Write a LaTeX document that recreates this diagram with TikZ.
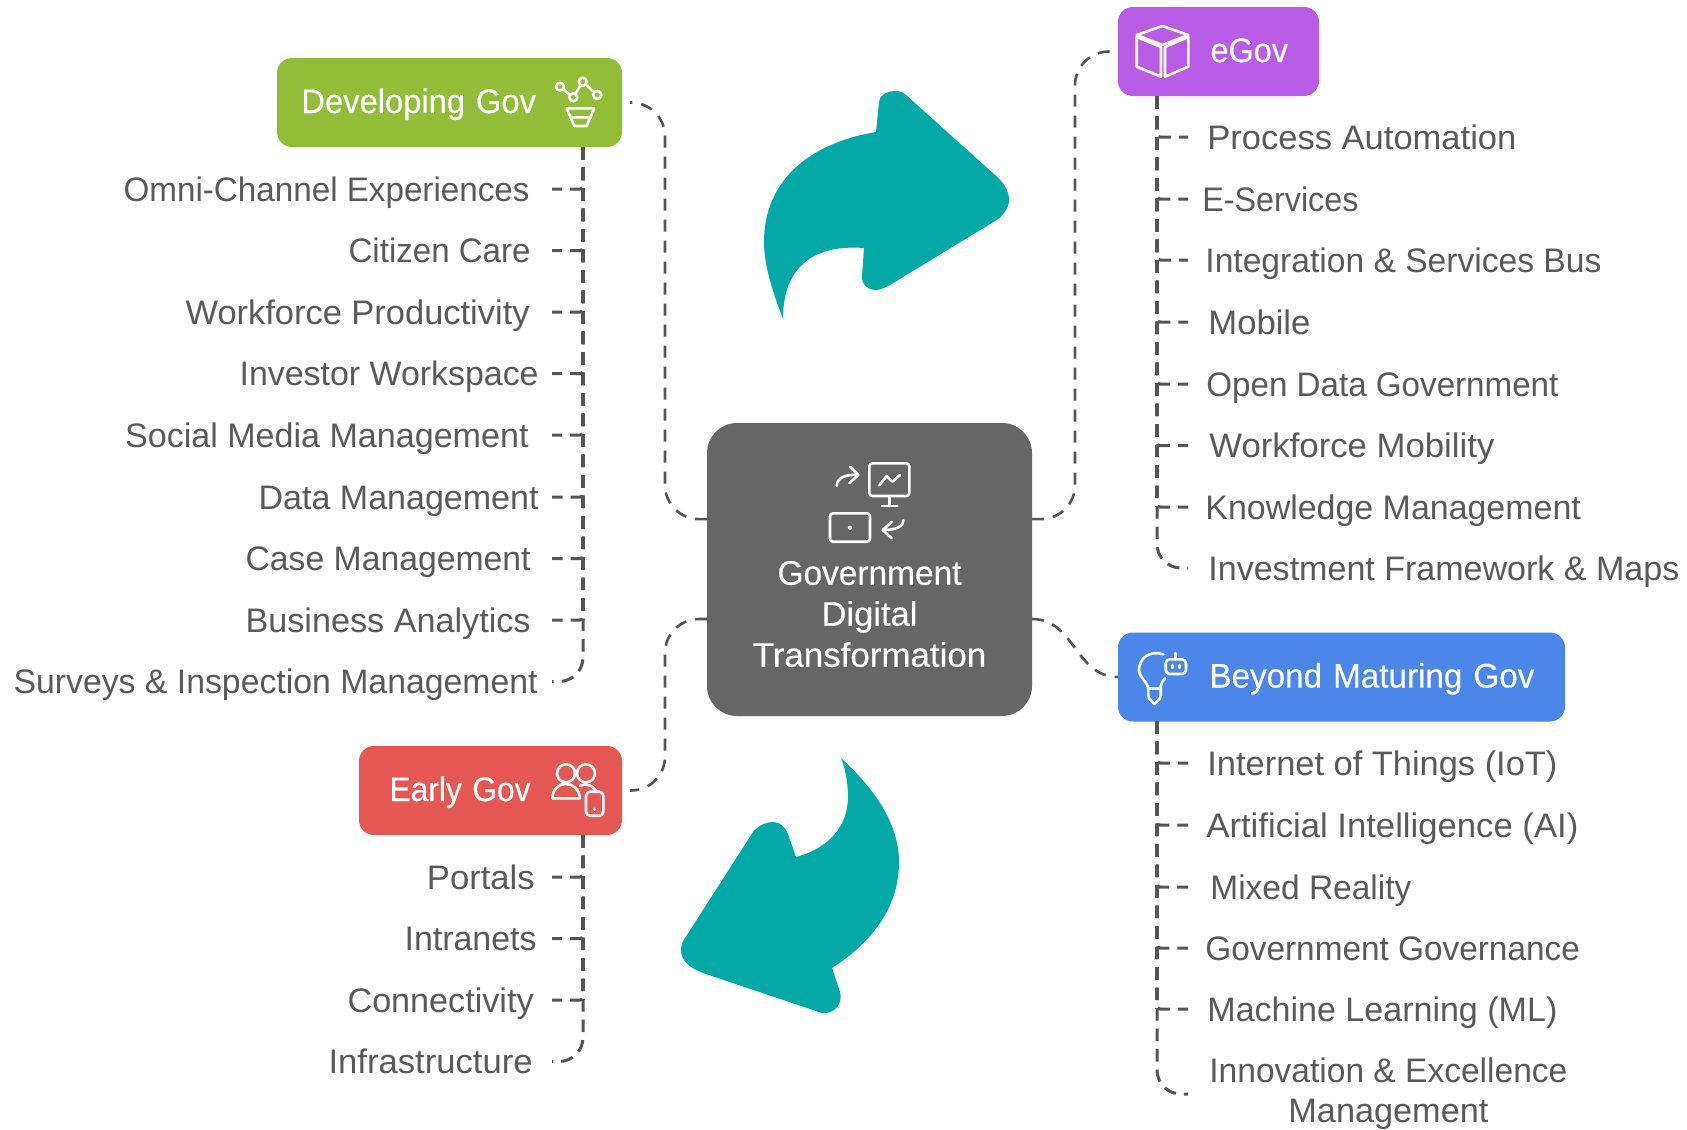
\documentclass[tikz,border=0pt]{standalone}
\usepackage{graphicx}
\usepackage{fontspec}
\setmainfont{Liberation Sans}
\newfontfamily\medfont[FakeBold=0.35]{Liberation Sans}
\usetikzlibrary{calc}
\definecolor{tealarrow}{RGB}{2,169,166}
\definecolor{cgreen}{RGB}{146,189,57}
\definecolor{cpurple}{RGB}{184,92,230}
\definecolor{cblue}{RGB}{75,134,232}
\definecolor{cred}{RGB}{229,87,83}
\definecolor{cgray}{RGB}{102,102,102}
\definecolor{ctext}{RGB}{90,90,90}
\definecolor{cline}{RGB}{85,85,85}
\newdimen\fitunit \fitunit=0.5pt
\newcommand{\fitw}[2]{\resizebox{#1\fitunit}{\height}{#2}}
\tikzset{
  x=0.5pt,y=-0.5pt,
  groupbox/.style={rectangle,rounded corners=7.5pt,inner sep=0pt,outer sep=0pt,text=white,
    minimum height=44.5pt,align=left,font=\fontsize{17}{20}\medfont,text height=14pt,text depth=3.5pt},
  hubbox/.style={rectangle,rounded corners=15pt,fill=cgray,inner sep=0pt,outer sep=0pt,
    minimum width=162.5pt,minimum height=146.5pt},
  hublabel/.style={text=white,align=center,inner sep=0pt,font=\fontsize{17}{20.5}\medfont},
  itemleft/.style={anchor=east,inner sep=0pt,text=ctext,font=\fontsize{17}{20}\selectfont,text height=15.5pt,text depth=3.5pt},
  itemright/.style={anchor=west,inner sep=0pt,text=ctext,font=\fontsize{17}{20}\selectfont,text height=15.5pt,text depth=3.5pt},
  conn/.style={draw=cline,line width=1.5pt,dash pattern=on 6.25pt off 4pt},
  trunk/.style={draw=cline,line width=2.3pt,dash pattern=on 6.25pt off 4pt},
  link/.style={draw=cline,line width=1.3pt,dash pattern=on 6pt off 4.5pt},
  icon/.style={draw=white,line width=1.3pt,line cap=round,line join=round},
  bigarrow/.style={fill=tealarrow,draw=none},
}
\begin{document}
\begin{tikzpicture}
\useasboundingbox (0,0) rectangle (1687,1130);
\fill[white] (0,0) rectangle (1687,1130);

% big arrows
\path[bigarrow] (783,319) .. controls (770,285) and (764,262) .. (764,242)
  .. controls (764,180) and (810,143) .. (876,132)
  -- (879,102) .. controls (880,94) and (888,91) .. (895,91) .. controls (899,91) and (903,92) .. (906,95)
  -- (995,175) .. controls (1003,182) and (1009,190) .. (1009,200) .. controls (1009,208) and (1003,216) .. (995,221)
  -- (890,285) .. controls (883,289) and (878,290) .. (875,290) .. controls (868,290) and (861,284) .. (862,276)
  -- (864,248) .. controls (810,244) and (783,270) .. (783,319) -- cycle;
\path[bigarrow] (841,758) .. controls (876,790) and (899,825) .. (899,862)
  .. controls (899,905) and (875,940) .. (832,968)
  -- (840,992) .. controls (843,1003) and (835,1013) .. (825,1013) .. controls (822,1013) and (820,1013) .. (816,1011)
  -- (703,973) .. controls (690,968) and (681,961) .. (681,950) .. controls (681,945) and (683,940) .. (687,935)
  -- (753,832) .. controls (759,825) and (766,822) .. (773,822) .. controls (780,822) and (785,827) .. (788,834)
  -- (796,857) .. controls (830,848) and (848,825) .. (848,797) .. controls (848,785) and (846,770) .. (841,758) -- cycle;

% boxes
\node[groupbox,fill=cgreen,minimum width=172.5pt,text width=172.5pt] (dev) at (449.5,102.5) {\hspace*{12.2pt}\fitw{234.6}{Developing Gov}};
\node[groupbox,fill=cpurple,minimum width=100.5pt,text width=100.5pt] (egov) at (1218.5,51.5) {\hspace*{46.25pt}\fitw{77.5}{eGov}};
\node[groupbox,fill=cblue,minimum width=223.5pt,text width=223.5pt] (beyond) at (1341.5,677) {\hspace*{45.7pt}\fitw{325}{Beyond Maturing Gov}};
\node[groupbox,fill=cred,minimum width=131.5pt,text width=131.5pt] (early) at (490.5,790.5) {\hspace*{15.25pt}\fitw{141}{Early Gov}};
\node[hubbox] (hub) at (869.5,569.5) {};
\node[hublabel] (hublabeltext) at (869.5,614) {\fitw{184}{Government}\\\fitw{96}{Digital}\\\fitw{233.5}{Transformation}};

% hub anchors
\coordinate (hubWa) at ($(hub.north west)!0.328!(hub.south west)$);
\coordinate (hubWb) at ($(hub.north west)!0.669!(hub.south west)$);
\coordinate (hubEa) at ($(hub.north east)!0.328!(hub.south east)$);
\coordinate (hubEb) at ($(hub.north east)!0.669!(hub.south east)$);
\coordinate (busLa) at (665,300);
\coordinate (busLb) at (665,700);
\coordinate (busR) at (1075,300);

% links between hub and boxes
\draw[link,rounded corners=17pt,shorten >=4pt] (hubWa) -| (busLa) |- (dev.east);
\draw[link,rounded corners=17pt,shorten >=4pt] (hubWb) -| (busLb) |- (early.east);
\draw[link,rounded corners=17pt] (hubEa) -| (busR) |- (egov.west);
\draw[link] (hubEb) .. controls (1075,619) and (1075,677) .. (beyond.west);

% trunk heads
\coordinate (devT) at (583,147);
\coordinate (earlyT) at (583,835);
\coordinate (egovT) at (1157,96);
\coordinate (beyondT) at (1157,721);

% thicker shared trunks
\draw[trunk] (devT) -- (583,620);
\draw[trunk] (earlyT) -- (583,1000);
\draw[trunk] (egovT) -- (1157,507);
\draw[trunk] (beyondT) -- (1157,1009);

% Developing Gov items
\foreach \n/\y/\r/\rad/\w/\t in {
 1/189/530/1.5/406/{Omni-Channel Experiences},
 2/250.5/531/1.5/182/{Citizen Care},
 3/312/530/1.5/344/{Workforce Productivity},
 4/373.5/539/1.5/299/{Investor Workspace},
 5/435/529/1.5/403.5/{Social Media Management},
 6/497/539/1.5/280/{Data Management},
 7/558.5/531/1.5/285/{Case Management},
 8/620/531/1.5/285/{Business Analytics},
 9/681.5/538/12/524/{Surveys \& Inspection Management}}{
  \node[itemleft] (d\n) at (\r,\y) {\fitw{\w}{\t}};
  \draw[conn,rounded corners=\rad pt,shorten >={(552-\r)*0.5pt}] (devT) |- (d\n.east);
}
% Early Gov items
\foreach \n/\y/\r/\rad/\w/\t in {
 1/877/535/1.5/107.6/{Portals},
 2/938.5/537/1.5/132/{Intranets},
 3/1000/534/1.5/186/{Connectivity},
 4/1061.5/533/12/204/{Infrastructure}}{
  \node[itemleft] (e\n) at (\r,\y) {\fitw{\w}{\t}};
  \draw[conn,rounded corners=\rad pt,shorten >={(552-\r)*0.5pt}] (earlyT) |- (e\n.east);
}
% eGov items
\foreach \n/\y/\l/\rad/\w/\t in {
 1/137/1207/1.5/309/{Process Automation},
 2/199/1202/1.5/156/{E-Services},
 3/260/1205/1.5/396/{Integration \& Services Bus},
 4/322/1208/1.5/102/{Mobile},
 5/384/1206/1.5/352/{Open Data Government},
 6/445.5/1209/1.5/285/{Workforce Mobility},
 7/507/1205/1.5/375.5/{Knowledge Management},
 8/568/1208/12/471/{Investment Framework \& Maps}}{
  \node[itemright] (g\n) at (\l,\y) {\fitw{\w}{\t}};
  \draw[conn,rounded corners=\rad pt,shorten >={(\l-1188)*0.5pt}] (egovT) |- (g\n.west);
}
% Beyond items
\foreach \n/\y/\l/\rad/\w/\t in {
 1/763/1207/1.5/350/{Internet of Things (IoT)},
 2/825/1206/1.5/372/{Artificial Intelligence (AI)},
 3/887/1210/1.5/201/{Mixed Reality},
 4/948/1205/1.5/374.5/{Government Governance},
 5/1009/1207/1.5/350/{Machine Learning (ML)}}{
  \node[itemright] (b\n) at (\l,\y) {\fitw{\w}{\t}};
  \draw[conn,rounded corners=\rad pt,shorten >={(\l-1188)*0.5pt}] (beyondT) |- (b\n.west);
}
\node[anchor=west,inner sep=0pt,text=ctext,align=center,font=\fontsize{17}{20}\selectfont] (b6) at (1209,1094) {\fitw{358}{Innovation \& Excellence}\\\fitw{200}{Management}};
\draw[conn,rounded corners=12pt,shorten >=10.5pt] (beyondT) |- (b6.west);

% icon: developing
\draw[icon] (560,86.7) circle (4) (573.3,97.3) circle (4) (582.7,81.7) circle (4) (597.3,95) circle (4);
\draw[icon] (563.2,89.2) -- (570.1,94.8) (575.4,93.9) -- (580.6,85.1) (585.7,84.4) -- (594.3,92.3);
\draw[icon] (566.7,108.3) -- (594.3,108.3) -- (586.7,126) -- (574.3,126) -- cycle (570.5,117.3) -- (590.5,117.3);
% icon: egov cube
\draw[icon] (1136.7,35) -- (1162.3,26) -- (1188.3,35) -- (1162.3,45) -- cycle;
\draw[icon] (1136.7,37) -- (1136.7,66.7) -- (1161,76.7) -- (1161,47) -- cycle;
\draw[icon] (1165,47) -- (1165,76.7) -- (1188.3,66.7) -- (1188.3,37) -- cycle;
% icon: bulb + robot
\draw[icon] (1163.3,654.3) .. controls (1150,650) and (1139,658) .. (1139,670) .. controls (1139,678) and (1148,682) .. (1148.3,688.3)
  -- (1148.3,696) .. controls (1149,700) and (1153,702) .. (1154.3,704) .. controls (1156,702) and (1160,700) .. (1160.7,696)
  -- (1160.7,686.7) .. controls (1161,683) and (1163,681) .. (1165,678.3);
\draw[icon] (1148.3,688.3) -- (1160.7,688.3);
\draw[icon,rounded corners=2pt] (1165.7,659.3) rectangle (1186,674);
\draw[icon] (1175.7,653) -- (1175.7,659.3) (1172.3,665) -- (1172.3,668) (1179.3,665) -- (1179.3,668);
% icon: early
\draw[icon] (566,773.3) circle (9) (586,773.3) circle (9);
\draw[icon] (552.3,798.3) .. controls (553,789) and (558,784) .. (566,784) .. controls (573,784) and (579,789) .. (580,798.3) -- cycle;
\draw[icon] (580,786) .. controls (582,784) and (592,783) .. (596.7,792);
\draw[icon,rounded corners=2pt,fill=cred] (586,791.7) rectangle (603.3,815.7);
\fill[white] (594.5,809.3) circle (1.7);
% icon: hub
\draw[icon,rounded corners=1.5pt] (869.3,463.3) rectangle (909.3,496);
\draw[icon] (889.3,496) -- (889.3,506) (881.7,506) -- (897.3,506);
\draw[icon] (879.3,485.3) -- (886.7,476) -- (892.3,481.7) -- (900,475);
\draw[icon] (836.7,486) .. controls (837,478) and (845,474) .. (858.3,475) (850,466.7) -- (858.3,475) -- (849.3,483.3);
\draw[icon,rounded corners=1.5pt] (830,513.3) rectangle (870,541.7);
\fill[white] (850,527.7) circle (2.2);
\draw[icon] (903.3,520) .. controls (903,527) and (896,530) .. (882.7,530) (891.7,521.7) -- (882.7,530) -- (891.7,538.3);
\end{tikzpicture}
\end{document}
